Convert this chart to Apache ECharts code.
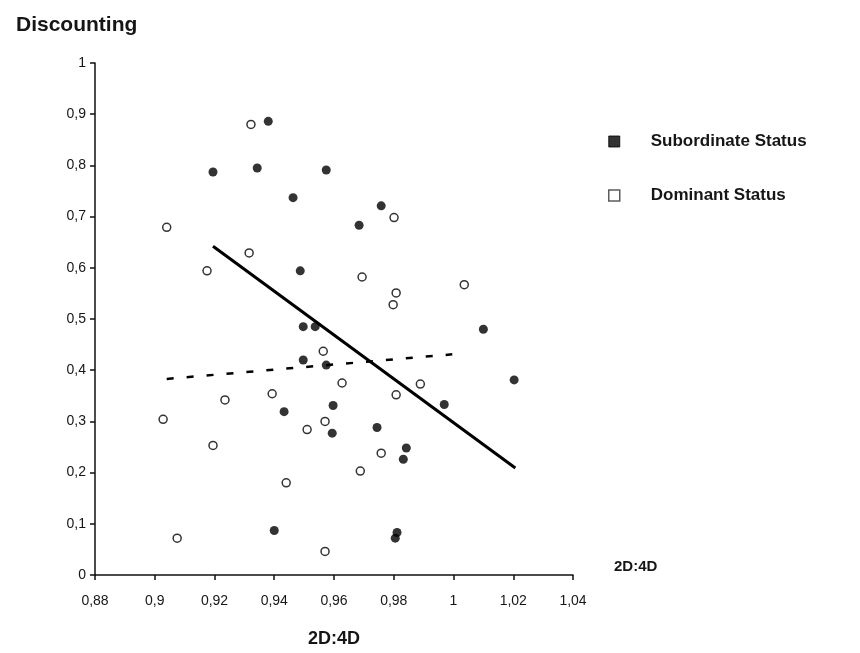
<!DOCTYPE html>
<html>
<head>
<meta charset="utf-8">
<script src="https://cdn.jsdelivr.net/npm/echarts@6/dist/echarts.min.js"></script>
<style>html,body{margin:0;padding:0;background:#fff}#c{width:860px;height:653px}</style>
</head>
<body>
<div id="c"></div>
<script>
// Subordinate Status (filled markers): [2D:4D, Discounting]
var subordinate = [
  [0.938,0.886],[0.9195,0.787],[0.9343,0.795],[0.9574,0.791],[0.9463,0.737],
  [0.9487,0.594],[0.9758,0.721],[0.9684,0.683],[1.010,0.480],[0.9497,0.485],
  [0.9537,0.485],[0.9497,0.420],[0.9574,0.410],[1.0203,0.381],[0.9969,0.333],
  [0.9597,0.331],[0.9594,0.277],[0.9744,0.288],[0.9842,0.248],[0.9832,0.226],
  [0.9433,0.319],[0.940,0.087],[0.9811,0.083],[0.9805,0.072]
];
// Dominant Status (open markers)
var dominant = [
  [0.9322,0.880],[0.904,0.679],[0.9316,0.629],[0.9175,0.594],[0.9801,0.698],
  [0.9694,0.582],[0.9808,0.551],[1.0036,0.567],[0.9798,0.528],[0.9564,0.437],
  [0.9627,0.375],[0.9889,0.373],[0.9808,0.352],[0.957,0.300],[0.951,0.284],
  [0.9758,0.238],[0.9688,0.203],[0.9235,0.342],[0.9393,0.354],[0.9028,0.304],
  [0.9195,0.253],[0.944,0.180],[0.9075,0.072],[0.957,0.046]
];
// Trend lines (end points)
var subordinateTrend = [[0.9195,0.642],[1.0207,0.209]];
var dominantTrend = [[0.904,0.383],[0.9996,0.431]];

var xTicks = {min:0.88, max:1.04, interval:0.02};
var yTicks = {min:0, max:1, interval:0.1};

function fmt(v){ return String(parseFloat((+v).toFixed(2))).replace('.', ','); }

var chart = echarts.init(document.getElementById('c'), null, {renderer:'canvas'});
var txt = '#161616';
var F = 'Liberation Sans';
chart.setOption({
  backgroundColor:'#fff',
  animation:false,
  title:{text:'Discounting', left:11, top:10,
    textStyle:{fontFamily:F, fontWeight:'bold', fontSize:21, color:txt}},
  legend:{
    orient:'vertical', left:603, top:128, itemGap:37,
    itemWidth:11, itemHeight:11,
    data:[
      {name:'Subordinate Status', icon:'rect', itemStyle:{color:'#000', borderColor:'#000', borderWidth:1}},
      {name:'Dominant Status', icon:'rect', itemStyle:{color:'#fff', borderColor:'#333', borderWidth:1.5}}
    ],
    textStyle:{fontFamily:F, fontWeight:'bold', fontSize:17, color:txt, padding:[0,0,0,26]}
  },
  graphic:[{type:'text', left:614, top:559,
    style:{text:'2D:4D', fill:txt, font:'bold 15px "Liberation Sans"'}}],
  grid:{left:95, right:287, top:63, bottom:73},
  xAxis:{
    type:'value', min:xTicks.min, max:xTicks.max, interval:xTicks.interval,
    name:'2D:4D', nameLocation:'middle', nameGap:55,
    nameTextStyle:{fontFamily:F, fontWeight:'bold', fontSize:18, color:txt},
    axisLine:{show:true, onZero:false, lineStyle:{color:'#111', width:1.5}},
    axisTick:{show:true, length:5, lineStyle:{color:'#111', width:1.5}},
    splitLine:{show:false},
    axisLabel:{formatter:fmt, margin:19, fontFamily:F, fontSize:14, color:txt}
  },
  yAxis:{
    type:'value', min:yTicks.min, max:yTicks.max, interval:yTicks.interval,
    axisLine:{show:true, onZero:false, lineStyle:{color:'#111', width:1.5}},
    axisTick:{show:true, length:5, lineStyle:{color:'#111', width:1.5}},
    splitLine:{show:false},
    axisLabel:{formatter:fmt, margin:9, fontFamily:F, fontSize:14, color:txt}
  },
  series:[
    {name:'Subordinate Status', type:'scatter', data:subordinate, symbol:'circle', symbolSize:9,
      itemStyle:{color:'#000'}},
    {name:'Dominant Status', type:'scatter', data:dominant, symbol:'circle', symbolSize:8,
      itemStyle:{color:'#fff', borderColor:'#000', borderWidth:1.5}},
    {name:'subTrend', type:'line', data:subordinateTrend, symbol:'none',
      lineStyle:{color:'#000', width:3, type:'solid'}, z:1},
    {name:'domTrend', type:'line', data:dominantTrend, symbol:'none',
      lineStyle:{color:'#000', width:2.5, type:[7,13]}, z:1}
  ]
});
</script>
</body>
</html>
